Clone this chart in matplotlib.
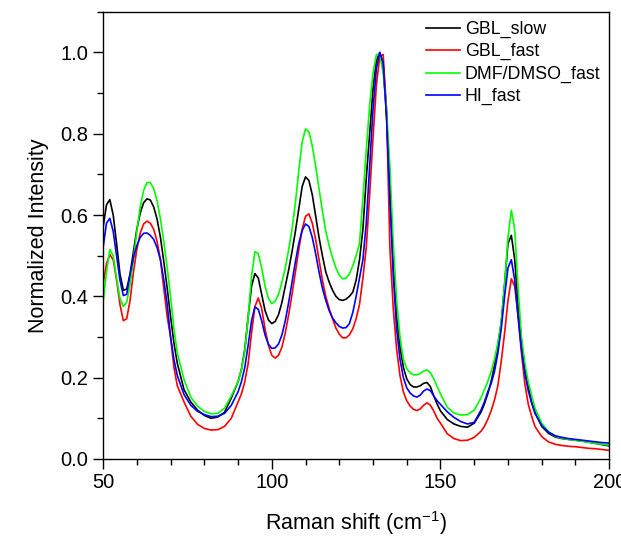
import matplotlib
matplotlib.use("Agg")
import matplotlib.pyplot as plt
from matplotlib.ticker import MultipleLocator

plt.rcParams['font.family'] = ['Liberation Sans', 'DejaVu Sans']
plt.rcParams['mathtext.fontset'] = 'custom'
plt.rcParams['mathtext.rm'] = 'Liberation Sans'
plt.rcParams['mathtext.default'] = 'regular'

# Raman shift grid (cm-1)
shift = [50, 51, 52, 53, 54, 55, 56, 57, 58, 59, 60, 61, 62, 63, 64, 65, 66, 67, 68, 69,
         70, 71, 72, 74, 76, 78, 80, 82, 84, 86, 88, 90,
         91, 92, 93, 94, 95, 96, 97, 98, 99, 100,
         101, 102, 103, 104, 105, 106, 107, 108, 109, 110,
         111, 112, 113, 114, 115, 116, 117, 118, 119, 120,
         121, 122, 123, 124, 125, 126, 127, 128, 129, 130,
         131, 132, 133, 134, 135, 136, 137, 138, 139, 140,
         141, 142, 143, 144, 145, 146, 147, 148, 149, 150,
         152, 154, 156, 158, 160,
         162, 163, 164, 165, 166, 167, 168, 169, 170, 171, 172, 173, 174, 175, 176, 177, 178,
         180, 182, 184, 186, 188, 190, 192, 194, 196, 198, 200]

gbl_slow = [0.57, 0.625, 0.638, 0.60, 0.53, 0.455, 0.415, 0.418, 0.455, 0.51, 0.565, 0.605, 0.63, 0.64, 0.637, 0.62, 0.59, 0.545, 0.485, 0.42,
            0.35, 0.285, 0.235, 0.17, 0.14, 0.12, 0.107, 0.10, 0.103, 0.115, 0.15, 0.19,
            0.22, 0.27, 0.35, 0.425, 0.456, 0.445, 0.405, 0.365, 0.342, 0.333,
            0.338, 0.355, 0.385, 0.425, 0.465, 0.51, 0.56, 0.615, 0.67, 0.694,
            0.685, 0.65, 0.598, 0.545, 0.50, 0.46, 0.435, 0.415, 0.40, 0.392,
            0.39, 0.393, 0.40, 0.41, 0.44, 0.49, 0.565, 0.69, 0.80, 0.91,
            0.98, 1.0, 0.97, 0.85, 0.66, 0.48, 0.35, 0.275, 0.225, 0.197,
            0.183, 0.177, 0.177, 0.18, 0.186, 0.188, 0.178, 0.155, 0.135, 0.118,
            0.097, 0.086, 0.08, 0.078, 0.088,
            0.115, 0.135, 0.16, 0.19, 0.23, 0.28, 0.335, 0.43, 0.53, 0.55, 0.49, 0.38, 0.29, 0.225, 0.18, 0.14, 0.115,
            0.08, 0.063, 0.054, 0.05, 0.048, 0.046, 0.044, 0.041, 0.038, 0.035, 0.032]

gbl_fast = [0.43, 0.48, 0.503, 0.49, 0.44, 0.38, 0.34, 0.345, 0.39, 0.46, 0.515, 0.555, 0.578, 0.585, 0.58, 0.565, 0.535, 0.49, 0.42, 0.35,
            0.30, 0.225, 0.18, 0.14, 0.105, 0.085, 0.075, 0.071, 0.072, 0.08, 0.10, 0.14,
            0.16, 0.19, 0.235, 0.31, 0.375, 0.396, 0.37, 0.32, 0.28, 0.255,
            0.248, 0.255, 0.275, 0.31, 0.355, 0.405, 0.46, 0.515, 0.565, 0.597,
            0.603, 0.58, 0.54, 0.49, 0.44, 0.40, 0.37, 0.345, 0.322, 0.307,
            0.298, 0.298, 0.305, 0.32, 0.345, 0.38, 0.445, 0.52, 0.65, 0.79,
            0.92, 0.99, 0.995, 0.86, 0.52, 0.37, 0.27, 0.205, 0.165, 0.143,
            0.13, 0.122, 0.119, 0.123, 0.132, 0.138, 0.132, 0.118, 0.10, 0.088,
            0.062, 0.05, 0.045, 0.046, 0.053,
            0.068, 0.08, 0.097, 0.118, 0.145, 0.18, 0.24, 0.31, 0.39, 0.443, 0.425, 0.35, 0.26, 0.185, 0.135, 0.105, 0.08,
            0.055, 0.042, 0.036, 0.033, 0.031, 0.03, 0.028, 0.026, 0.025, 0.023, 0.021]

dmf_dmso_fast = [0.385, 0.46, 0.515, 0.50, 0.445, 0.395, 0.375, 0.385, 0.43, 0.49, 0.56, 0.62, 0.66, 0.68, 0.68, 0.665, 0.635, 0.59, 0.535, 0.47,
                 0.40, 0.32, 0.26, 0.195, 0.152, 0.13, 0.117, 0.111, 0.112, 0.125, 0.155, 0.19,
                 0.22, 0.265, 0.35, 0.45, 0.51, 0.505, 0.47, 0.425, 0.395, 0.382,
                 0.388, 0.405, 0.435, 0.47, 0.515, 0.565, 0.63, 0.71, 0.78, 0.812,
                 0.805, 0.77, 0.72, 0.665, 0.61, 0.56, 0.525, 0.495, 0.47, 0.452,
                 0.443, 0.445, 0.455, 0.475, 0.50, 0.53, 0.64, 0.76, 0.87, 0.95,
                 0.995, 0.995, 0.95, 0.86, 0.72, 0.53, 0.39, 0.30, 0.245, 0.222,
                 0.212, 0.207, 0.207, 0.21, 0.216, 0.219, 0.212, 0.197, 0.178, 0.16,
                 0.127, 0.113, 0.108, 0.109, 0.12,
                 0.15, 0.17, 0.19, 0.215, 0.245, 0.285, 0.335, 0.43, 0.545, 0.612, 0.565, 0.42, 0.30, 0.235, 0.19, 0.157, 0.125,
                 0.088, 0.067, 0.056, 0.051, 0.048, 0.046, 0.043, 0.041, 0.038, 0.036, 0.034]

hi_fast = [0.52, 0.58, 0.592, 0.56, 0.50, 0.44, 0.402, 0.405, 0.455, 0.495, 0.525, 0.545, 0.555, 0.556, 0.55, 0.54, 0.52, 0.49, 0.44, 0.38,
           0.30, 0.245, 0.205, 0.158, 0.132, 0.117, 0.109, 0.104, 0.105, 0.112, 0.132, 0.165,
           0.19, 0.225, 0.28, 0.34, 0.374, 0.368, 0.34, 0.305, 0.282, 0.272,
           0.273, 0.283, 0.305, 0.34, 0.385, 0.435, 0.485, 0.53, 0.562, 0.578,
           0.572, 0.545, 0.505, 0.46, 0.42, 0.39, 0.365, 0.347, 0.335, 0.326,
           0.322, 0.323, 0.333, 0.36, 0.40, 0.445, 0.49, 0.58, 0.72, 0.86,
           0.96, 1.0, 0.975, 0.84, 0.64, 0.45, 0.32, 0.245, 0.20, 0.175,
           0.162, 0.155, 0.152, 0.157, 0.167, 0.172, 0.168, 0.155, 0.143, 0.134,
           0.116, 0.102, 0.092, 0.086, 0.09,
           0.12, 0.14, 0.165, 0.185, 0.215, 0.26, 0.32, 0.40, 0.47, 0.49, 0.44, 0.35, 0.27, 0.21, 0.168, 0.138, 0.112,
           0.082, 0.066, 0.057, 0.053, 0.05, 0.048, 0.046, 0.044, 0.042, 0.04, 0.039]

series = [("GBL_slow", gbl_slow, "black"),
          ("GBL_fast", gbl_fast, "#ff0000"),
          ("DMF/DMSO_fast", dmf_dmso_fast, "#00ff00"),
          ("HI_fast", hi_fast, "#0000ff")]

fig = plt.figure(figsize=(6.21, 5.38), dpi=100)
ax = fig.add_axes([0.166, 0.147, 0.815, 0.831])

for name, vals, color in series:
    ax.plot(shift, vals, color=color, linewidth=1.2, label=name)

ax.set_xlim(50, 200)
ax.set_ylim(0, 1.1)
ax.xaxis.set_major_locator(MultipleLocator(50))
ax.xaxis.set_minor_locator(MultipleLocator(10))
ax.yaxis.set_major_locator(MultipleLocator(0.2))
ax.yaxis.set_minor_locator(MultipleLocator(0.1))
ax.yaxis.set_major_formatter(plt.FormatStrFormatter('%.1f'))
ax.tick_params(which='both', direction='out', top=False, right=False, labelsize=14.5, width=1.0)
ax.tick_params(which='major', length=7)
ax.tick_params(which='minor', length=4)
for sp in ax.spines.values():
    sp.set_linewidth(1.0)

ax.set_xlabel("Raman shift (cm$^{-1}$)", fontsize=15.5, labelpad=12)
ax.set_ylabel("Normalized Intensity", fontsize=15.5, labelpad=8)

ax.legend(loc='upper right', bbox_to_anchor=(1.0, 1.0), frameon=False, fontsize=12.8,
          handlelength=1.9, handletextpad=0.25, labelspacing=0.3, borderaxespad=0.3, borderpad=0.2)

fig.savefig("out.png", dpi=100)
